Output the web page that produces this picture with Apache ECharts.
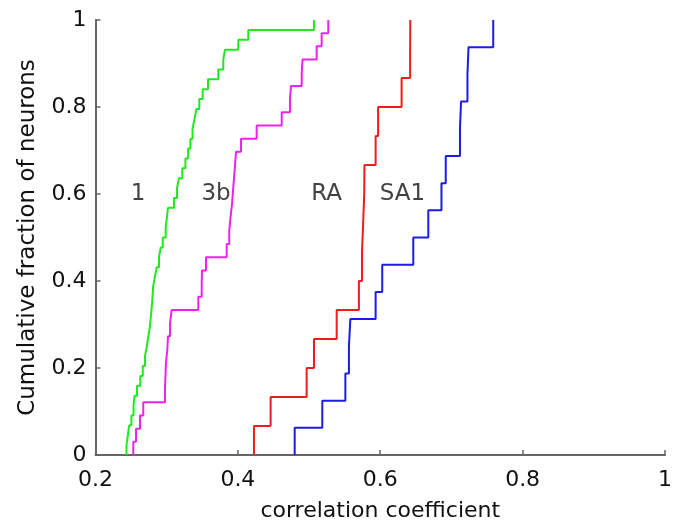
<!DOCTYPE html>
<html>
<head>
<meta charset="utf-8">
<script src="https://cdn.jsdelivr.net/npm/echarts@6/dist/echarts.min.js"></script>
<style>
html,body{margin:0;padding:0;background:#fff;}
#chart{width:679px;height:527px;}
</style>
</head>
<body>
<div id="chart"></div>
<script>
// Sorted correlation coefficients per area (empirical CDF)
var area1 = [0.2435,0.2455,0.2473,0.2504,0.2534,0.2549,0.2583,0.2629,0.2664,0.2695,
             0.2721,0.2742,0.2764,0.2777,0.2791,0.2801,0.2809,0.2833,0.2861,0.2892,
             0.2916,0.2945,0.2986,0.3003,0.3018,0.3103,0.3145,0.3173,0.3219,0.3263,
             0.3301,0.3333,0.3363,0.3391,0.3419,0.3458,0.3506,0.3580,0.3725,0.3795,
             0.3819,0.4006,0.4146,0.5069];
var area3b = [0.2531,0.2569,0.2625,0.2671,0.2976,0.2983,0.2990,0.3009,0.3018,0.3047,
              0.3070,0.3444,0.3492,0.3496,0.3552,0.3843,0.3879,0.3896,0.3917,0.3931,
              0.3946,0.3960,0.3974,0.4044,0.4264,0.4616,0.4732,0.4746,0.4897,0.4908,
              0.5107,0.5177,0.5270];
var areaRA = [0.4226,0.4460,0.4966,0.5069,0.5388,0.5700,0.5744,0.5760,0.5775,0.5778,
              0.5935,0.5970,0.6300,0.6420,0.6422];
var areaSA1 = [0.4798,0.5186,0.5510,0.5560,0.5580,0.5935,0.6028,0.6464,0.6675,0.6860,
               0.6920,0.7120,0.7135,0.7225,0.7240,0.7587];

var seriesNames = ['1','3b','RA','SA1'];
var seriesColors = ['#22e822','#ee22ee','#ee1c1c','#1c1ce6'];

var labelX = [0.2597, 0.3693, 0.5248, 0.6312];
var labelY = [0.601, 0.601, 0.601, 0.601];

var xTicks = {min:0.2, max:1, interval:0.2};
var yTicks = {min:0, max:1, interval:0.2};

function cdf(vals){
  var n = vals.length;
  var out = [[vals[0], 0]];
  for (var i = 0; i < n; i++) out.push([vals[i], (i + 1) / n]);
  return out;
}

var FONT = 'DejaVu Sans';
var TXT = '#111111';
var sets = [area1, area3b, areaRA, areaSA1];
var series = sets.map(function(v, i){
  return {
    type:'line', name:seriesNames[i], step:'end', data:cdf(v),
    showSymbol:false, symbol:'none', animation:false,
    lineStyle:{color:seriesColors[i], width:2}
  };
});
series.push({
  type:'scatter', symbolSize:0, animation:false, silent:true,
  data: seriesNames.map(function(n, i){ return [labelX[i], labelY[i], n]; }),
  label:{show:true, position:'inside', formatter:function(p){return p.value[2];},
         color:TXT, fontSize:23, fontFamily:FONT}
});

var chart = echarts.init(document.getElementById('chart'), null, {renderer:'canvas'});
chart.setOption({
  backgroundColor:'#ffffff',
  animation:false,
  grid:{left:95.5, right:14, top:20, bottom:66, containLabel:false},
  xAxis:{
    type:'value', min:xTicks.min, max:xTicks.max, interval:xTicks.interval,
    name:'correlation coefficient', nameLocation:'middle', nameGap:45,
    nameTextStyle:{color:TXT, fontSize:22, fontFamily:FONT},
    axisLine:{show:true, onZero:false, lineStyle:{color:'#666666', width:2}},
    axisTick:{show:true, inside:true, length:5, lineStyle:{color:'#666666', width:1.5}},
    axisLabel:{color:TXT, fontSize:22, fontFamily:FONT, margin:14},
    splitLine:{show:false}
  },
  yAxis:{
    type:'value', min:yTicks.min, max:yTicks.max, interval:yTicks.interval,
    name:'Cumulative fraction of neurons', nameLocation:'middle', nameGap:56,
    nameTextStyle:{color:TXT, fontSize:23, fontFamily:FONT},
    axisLine:{show:true, onZero:false, lineStyle:{color:'#666666', width:2}},
    axisTick:{show:true, inside:true, length:5, lineStyle:{color:'#666666', width:1.5}},
    axisLabel:{color:TXT, fontSize:22, fontFamily:FONT, margin:9},
    splitLine:{show:false}
  },
  series:series
});
</script>
</body>
</html>
